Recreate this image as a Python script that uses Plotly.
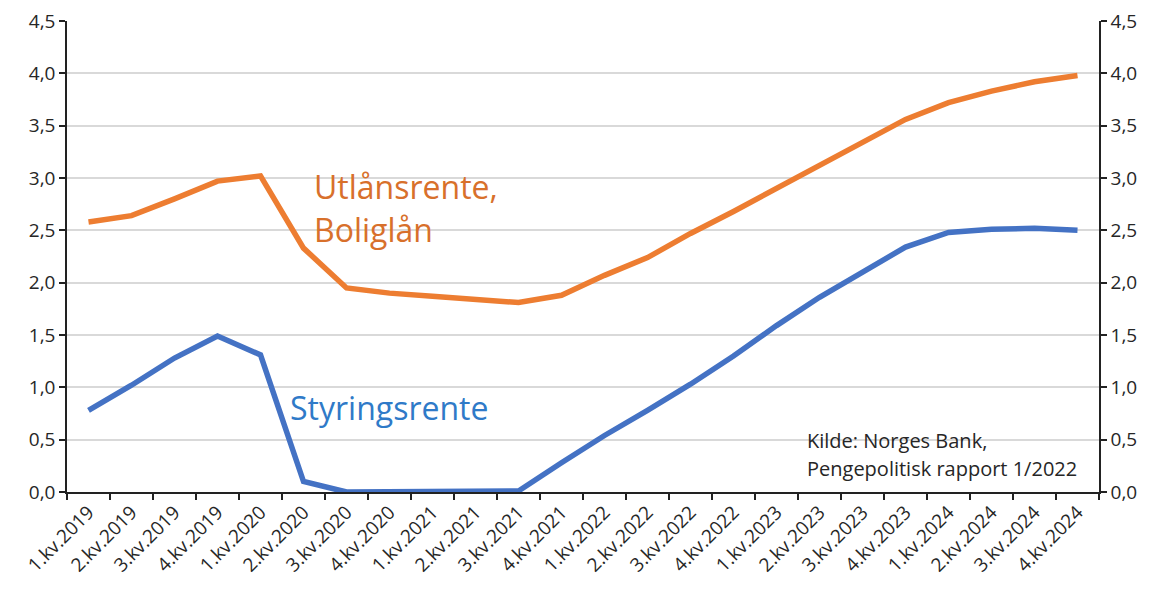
import plotly.graph_objects as go

quarters = ["1.kv.2019", "2.kv.2019", "3.kv.2019", "4.kv.2019",
            "1.kv.2020", "2.kv.2020", "3.kv.2020", "4.kv.2020",
            "1.kv.2021", "2.kv.2021", "3.kv.2021", "4.kv.2021",
            "1.kv.2022", "2.kv.2022", "3.kv.2022", "4.kv.2022",
            "1.kv.2023", "2.kv.2023", "3.kv.2023", "4.kv.2023",
            "1.kv.2024", "2.kv.2024", "3.kv.2024", "4.kv.2024"]

utlansrente = [2.58, 2.64, 2.80, 2.97, 3.02, 2.33, 1.95, 1.90,
               1.87, 1.84, 1.81, 1.88, 2.07, 2.24, 2.47, 2.68,
               2.90, 3.11, 3.33, 3.56, 3.72, 3.83, 3.92, 3.98]

styringsrente = [0.78, 1.02, 1.28, 1.49, 1.31, 0.10, 0.00, 0.00,
                 0.00, 0.00, 0.01, 0.28, 0.54, 0.78, 1.03, 1.30,
                 1.59, 1.86, 2.10, 2.34, 2.48, 2.51, 2.52, 2.50]

y_ticks = [0, 0.5, 1.0, 1.5, 2.0, 2.5, 3.0, 3.5, 4.0, 4.5]

ORANGE = "#ED7D31"
BLUE = "#4472C4"
FONT = "Open Sans"
TXT = "#262626"
TICK_SIZE = 19

fig = go.Figure()
fig.add_trace(go.Scatter(x=quarters, y=utlansrente, mode="lines",
                         line=dict(color=ORANGE, width=5.5), showlegend=False))
fig.add_trace(go.Scatter(x=quarters, y=styringsrente, mode="lines",
                         line=dict(color=BLUE, width=5.5), showlegend=False,
                         yaxis="y2"))

axis_common = dict(range=[0, 4.5], tickvals=y_ticks, tickformat=".1f",
                   ticks="outside", ticklen=6, tickwidth=1.5, tickcolor="#222",
                   showline=True, linecolor="#222", linewidth=1.5,
                   tickfont=dict(family=FONT, size=TICK_SIZE, color=TXT),
                   ticklabeloverflow="allow",
                   zeroline=False, fixedrange=True, automargin=False)

fig.update_layout(
    width=1158, height=592,
    margin=dict(l=59, r=67, t=13, b=108),
    paper_bgcolor="white", plot_bgcolor="white",
    separators=", ",
    font=dict(family=FONT, color=TXT),
    xaxis=dict(type="category", range=[-0.5, len(quarters) - 0.5],
               tickson="boundaries", ticks="outside",
               ticklen=6, tickwidth=1.5, tickcolor="#222",
               showline=True, linecolor="#222", linewidth=1.5,
               showgrid=False, tickangle=-45, automargin=False,
               ticklabeloverflow="allow",
               tickfont=dict(family=FONT, size=TICK_SIZE, color=TXT)),
    yaxis=dict(side="left", showgrid=True, gridcolor="#d9d9d9", gridwidth=1.5,
               **axis_common),
    yaxis2=dict(side="right", overlaying="y", anchor="x", showgrid=False,
                **axis_common),
)

annos = [
    ("Utlånsrente,", 0.2374, 2.915, "#D8702B", 32),
    ("Boliglån", 0.2374, 2.506, "#D8702B", 32),
    ("Styringsrente", 0.2141, 0.807, "#2F7AC8", 32),
    ("Kilde: Norges Bank,", 0.715, 0.494, TXT, 20),
    ("Pengepolitisk rapport 1/2022", 0.715, 0.228, TXT, 20),
]
for text, px, yv, col, sz in annos:
    fig.add_annotation(text=text, xref="paper", yref="y", x=px, y=yv,
                       xanchor="left", yanchor="middle", showarrow=False,
                       font=dict(family=FONT, size=sz, color=col))

fig.write_html("out.html")
